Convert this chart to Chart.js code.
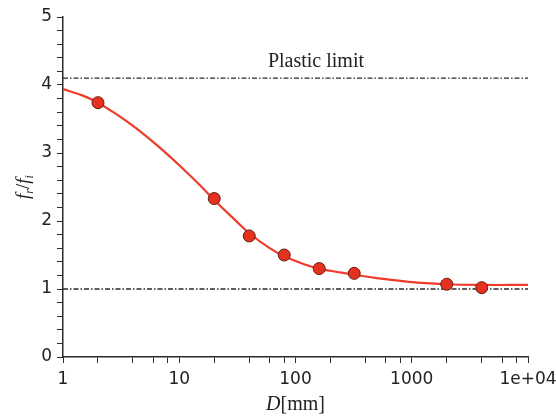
<!DOCTYPE html>
<html>
<head>
<meta charset="utf-8">
<script src="https://cdn.jsdelivr.net/npm/chart.js@4/dist/chart.umd.min.js"></script>
<style>
  html, body { margin: 0; padding: 0; background: #fff; }
  #wrap { width: 556px; height: 419px; }
</style>
</head>
<body>
<div id="wrap"><canvas id="chart" width="556" height="419"></canvas></div>
<script>
// measured points (D in mm, fr/fi)
const pointD = [2, 20, 40, 80, 160, 320, 2000, 4000];
const pointRatio = [3.74, 2.33, 1.78, 1.50, 1.30, 1.23, 1.07, 1.02];

// fitted curve
const curveD = [1, 1.5, 2, 3, 4, 5, 7, 10, 15, 20, 30, 40, 60, 80, 120, 160, 250, 320, 500, 800, 1000, 2000, 4000, 10000];
const curveRatio = [3.94, 3.84, 3.74, 3.55, 3.40, 3.27, 3.06, 2.82, 2.53, 2.31, 2.02, 1.82, 1.60, 1.48, 1.36, 1.30, 1.24, 1.21, 1.16, 1.12, 1.10, 1.07, 1.06, 1.06];

const plasticLimit = 4.1;
const lowerLimit = 1.0;
const xRange = [1, 10000];
const xTicks = [1, 2, 4, 6, 8, 10, 20, 40, 60, 80, 100, 200, 400, 600, 800, 1000, 2000, 4000, 6000, 8000, 10000];
const xTickLabels = { 1: "1", 10: "10", 100: "100", 1000: "1000", 10000: "1e+04" };

const RED = "#ee3b2b";
const INK = "#2a2a2a";
const dashDot = [5, 2, 1.5, 2];

const toXY = (xs, ys) => xs.map((x, i) => ({ x, y: ys[i] }));

const annotations = {
  id: "annotations",
  afterDraw(chart) {
    const { ctx, scales } = chart;
    const xs = scales.x, ys = scales.y;
    ctx.save();
    ctx.fillStyle = "#222";
    // Plastic limit label
    ctx.font = "20px 'Liberation Serif'";
    ctx.textAlign = "center";
    ctx.textBaseline = "alphabetic";
    ctx.fillText("Plastic limit", xs.getPixelForValue(150), ys.getPixelForValue(plasticLimit) - 11);

    // x title: D[mm]
    const xMid = (chart.chartArea.left + chart.chartArea.right) / 2;
    ctx.textAlign = "left";
    ctx.font = "italic 20px 'Liberation Serif'";
    const wD = ctx.measureText("D").width;
    ctx.font = "20px 'Liberation Serif'";
    const wU = ctx.measureText("[mm]").width;
    const x0 = xMid - (wD + wU) / 2;
    ctx.font = "italic 20px 'Liberation Serif'";
    ctx.fillText("D", x0, 410);
    ctx.font = "20px 'Liberation Serif'";
    ctx.fillText("[mm]", x0 + wD, 410);

    // y title: fr/fi rotated
    ctx.translate(29, (chart.chartArea.top + chart.chartArea.bottom) / 2);
    ctx.rotate(-Math.PI / 2);
    const parts = [
      ["f", "italic 19px 'Liberation Serif'", 0],
      ["r", "italic 12px 'Liberation Serif'", 4],
      ["/", "19px 'Liberation Serif'", 0],
      ["f", "italic 19px 'Liberation Serif'", 0],
      ["i", "italic 12px 'Liberation Serif'", 4],
    ];
    let total = 0;
    parts.forEach(([t, f]) => { ctx.font = f; total += ctx.measureText(t).width; });
    let px = -total / 2;
    parts.forEach(([t, f, dy]) => {
      ctx.font = f;
      ctx.fillText(t, px, dy);
      px += ctx.measureText(t).width;
    });
    ctx.restore();
  }
};

new Chart(document.getElementById("chart"), {
  type: "scatter",
  data: {
    datasets: [
      {
        data: toXY(pointD, pointRatio),
        showLine: false,
        pointRadius: 6,
        pointBackgroundColor: "#e5321f",
        pointBorderColor: "#6b1a12",
        pointBorderWidth: 1,
      },
      {
        data: toXY(curveD, curveRatio),
        showLine: true,
        borderColor: RED,
        borderWidth: 2.2,
        pointRadius: 0,
        tension: 0.4,
      },
      {
        data: toXY(xRange, [plasticLimit, plasticLimit]),
        showLine: true,
        borderColor: INK,
        borderWidth: 1.3,
        borderDash: dashDot,
        pointRadius: 0,
      },
      {
        data: toXY(xRange, [lowerLimit, lowerLimit]),
        showLine: true,
        borderColor: INK,
        borderWidth: 1.3,
        borderDash: dashDot,
        pointRadius: 0,
      },
    ],
  },
  options: {
    responsive: false,
    animation: false,
    events: [],
    layout: { padding: { top: 17, right: 28, left: 0, bottom: 0 } },
    plugins: { legend: { display: false }, tooltip: { enabled: false } },
    scales: {
      x: {
        type: "logarithmic",
        min: 1,
        max: 10000,
        afterBuildTicks: (scale) => { scale.ticks = xTicks.map(v => ({ value: v })); },
        afterFit: (scale) => {
          scale.height = 62;
          scale.paddingLeft = 0;
          scale.paddingRight = 0;
        },
        ticks: {
          autoSkip: false,
          maxRotation: 0,
          padding: 6,
          color: "#222",
          font: { family: "DejaVu Sans", size: 17 },
          callback: (v) => xTickLabels[v] || "",
        },
        grid: { drawOnChartArea: false, drawTicks: true, tickLength: 6, color: INK, lineWidth: 1 },
        border: { display: true, color: INK, width: 1.5 },
      },
      y: {
        min: 0,
        max: 5,
        afterFit: (scale) => {
          scale.width = 63;
          scale.paddingTop = 0;
          scale.paddingBottom = 0;
        },
        ticks: {
          stepSize: 0.2,
          autoSkip: false,
          padding: 5,
          color: "#222",
          font: { family: "DejaVu Sans", size: 17 },
          callback: (v) => {
            const r = Math.round(v * 1000) / 1000;
            return Number.isInteger(r) ? String(r) : "";
          },
        },
        grid: { drawOnChartArea: false, drawTicks: true, tickLength: 6, color: INK, lineWidth: 1 },
        border: { display: true, color: INK, width: 1.5 },
      },
    },
  },
  plugins: [annotations],
});
</script>
</body>
</html>
